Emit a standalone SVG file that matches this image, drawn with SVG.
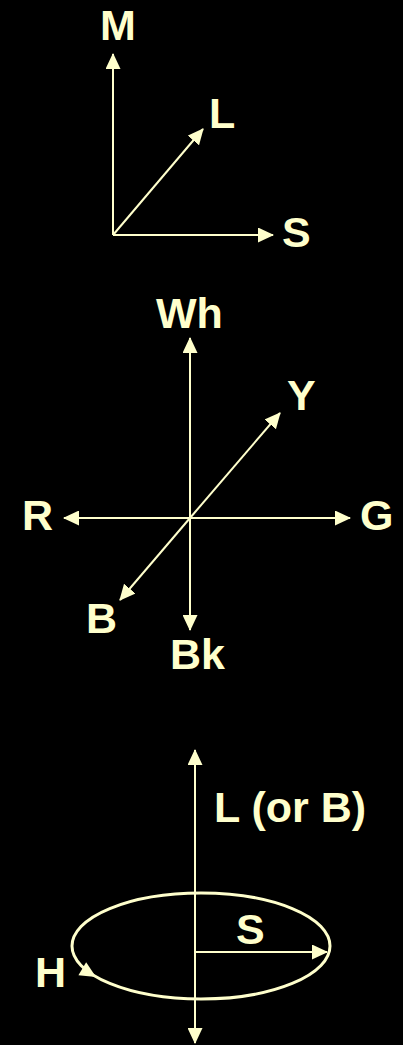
<svg xmlns="http://www.w3.org/2000/svg" width="403" height="1045" viewBox="0 0 403 1045">
<style>
.ln{stroke:#FFFFCC;stroke-width:2;fill:none}
.el{stroke:#FFFFCC;stroke-width:3;fill:none}
.t{font-family:"Liberation Sans",Arial,sans-serif;font-weight:bold;font-size:43px;fill:#FFFFCC}
</style>
<defs>
<marker id="ah" viewBox="0 0 16 15" markerWidth="16" markerHeight="15" refX="15" refY="7.5" orient="auto-start-reverse" markerUnits="userSpaceOnUse">
<path d="M0,0 L16,7.5 L0,15 z" fill="#FFFFCC"/>
</marker>
</defs>
<rect width="403" height="1045" fill="#000"/>
<g id="connectors">
<line class="ln" x1="113" y1="235" x2="113" y2="54" marker-end="url(#ah)"/>
<line class="ln" x1="113" y1="235" x2="273" y2="235" marker-end="url(#ah)"/>
<line class="ln" x1="113" y1="235" x2="203" y2="129" marker-end="url(#ah)"/>
<line class="ln" x1="190" y1="518" x2="190" y2="338" marker-end="url(#ah)"/>
<line class="ln" x1="190" y1="518" x2="190" y2="630" marker-end="url(#ah)"/>
<line class="ln" x1="190" y1="518" x2="64" y2="518" marker-end="url(#ah)"/>
<line class="ln" x1="190" y1="518" x2="350" y2="518" marker-end="url(#ah)"/>
<line class="ln" x1="190" y1="518" x2="280" y2="413" marker-end="url(#ah)"/>
<line class="ln" x1="190" y1="518" x2="120" y2="600" marker-end="url(#ah)"/>
<line class="ln" x1="195" y1="945" x2="195" y2="750" marker-end="url(#ah)"/>
<line class="ln" x1="195" y1="945" x2="195" y2="1043" marker-end="url(#ah)"/>
<line class="ln" x1="195" y1="952" x2="327" y2="952" marker-end="url(#ah)"/>
</g>
<g id="ellipse-h">
<ellipse class="el" cx="201" cy="946" rx="129" ry="53"/>
<polygon points="0,0 -16,-7.5 -16,7.5" fill="#FFFFCC" transform="translate(96,977) rotate(31)"/>
</g>
<g id="node-M"><text class="t" x="100" y="40">M</text></g>
<g id="node-L"><text class="t" x="209" y="128">L</text></g>
<g id="node-S"><text class="t" x="282" y="247">S</text></g>
<g id="node-Wh"><text class="t" x="156" y="328">Wh</text></g>
<g id="node-Y"><text class="t" x="287" y="410">Y</text></g>
<g id="node-R"><text class="t" x="22" y="530">R</text></g>
<g id="node-G"><text class="t" x="360" y="530">G</text></g>
<g id="node-B"><text class="t" x="86" y="633">B</text></g>
<g id="node-Bk"><text class="t" x="170" y="669">Bk</text></g>
<g id="node-LorB"><text class="t" x="214" y="822">L (or B)</text></g>
<g id="node-S2"><text class="t" x="236" y="944">S</text></g>
<g id="node-H"><text class="t" x="35" y="987">H</text></g>
</svg>
